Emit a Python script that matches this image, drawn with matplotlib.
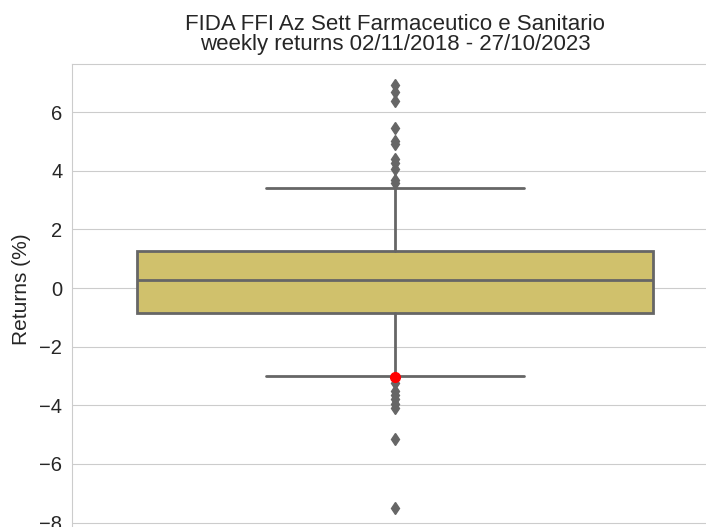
import matplotlib
matplotlib.use("Agg")
import matplotlib.pyplot as plt
import seaborn as sns

fund_name = "FIDA FFI Az Sett Farmaceutico e Sanitario"
period = "weekly returns 02/11/2018 - 27/10/2023"

# box statistics (weekly returns, %)
q1 = -0.84
median = 0.27
q3 = 1.26
whisker_low = -3.0
whisker_high = 3.40
fliers_high = [6.93, 6.69, 6.38, 5.45, 5.02, 4.90, 4.42, 4.27, 4.05, 3.68, 3.60]
fliers_low = [-3.25, -3.50, -3.65, -3.80, -3.95, -4.10, -5.15, -7.50]
var_point = -3.04

sns.set_style("whitegrid")
plt.rcParams["font.family"] = ["Liberation Sans", "DejaVu Sans"]

gray = "#666666"
box_color = "#d0c16c"

fig = plt.figure(figsize=(7.06, 5.27), dpi=100)
ax = fig.add_axes([0.102, -0.004, 0.915, 0.883])

stats = [{
    "med": median, "q1": q1, "q3": q3,
    "whislo": whisker_low, "whishi": whisker_high,
    "fliers": fliers_high + fliers_low,
}]
ax.bxp(stats, positions=[0], widths=0.8, patch_artist=True,
       boxprops=dict(facecolor=box_color, edgecolor=gray, linewidth=2),
       medianprops=dict(color=gray, linewidth=2),
       whiskerprops=dict(color=gray, linewidth=2),
       capprops=dict(color=gray, linewidth=2),
       capwidths=0.4,
       flierprops=dict(marker="d", markerfacecolor=gray, markeredgecolor=gray,
                       markersize=6, linestyle="none"))
ax.plot([0], [var_point], "o", color="red", markersize=7, zorder=5)

ax.set_xlim(-0.5, 0.5)
ax.set_xticks([])
ax.grid(axis="x", visible=False)
ax.set_yticks([-8, -6, -4, -2, 0, 2, 4, 6])
ax.tick_params(axis="y", labelsize=14.5, colors="#262626")
ax.set_ylabel("Returns (%)", fontsize=15, color="#262626")
ax.yaxis.set_label_coords(-0.064, 0.515)
ax.set_title(fund_name + "\n" + period, fontsize=16, color="#262626",
             linespacing=0.92, pad=10)

fig.savefig("out.png", dpi=100)
